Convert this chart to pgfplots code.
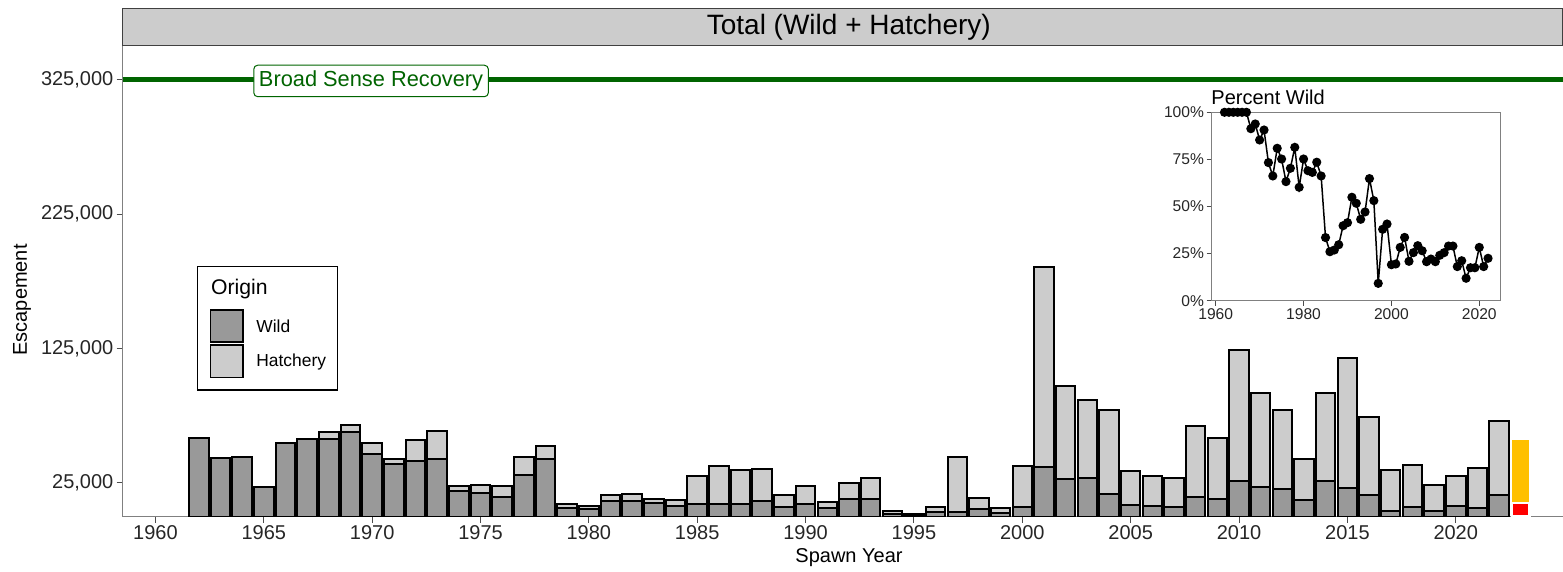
\documentclass[border=0pt]{standalone}
\usepackage{fontspec}
\setmainfont{Liberation Sans}
\usepackage{pgfplots}
\pgfplotsset{compat=1.18}
\usepackage{pgfplotstable}

\definecolor{wildgray}{HTML}{999999}
\definecolor{hatchgray}{HTML}{CCCCCC}
\definecolor{recgreen}{HTML}{006400}
\definecolor{fcorange}{HTML}{FFC000}
\definecolor{fcred}{HTML}{FF0000}
\definecolor{axgray}{HTML}{808080}

% escapement by spawn year
\pgfplotstableread{
year wild hatchery
1962 58660 0
1963 43330 0
1964 44540 0
1965 21780 0
1966 54500 0
1967 57470 0
1968 57470 5430
1969 63130 5200
1970 46540 7960
1971 39110 3940
1972 41560 15390
1973 42600 21040
1974 19030 3940
1975 17550 5940
1976 14570 7960
1977 30710 13380
1978 42830 9440
1979 6170 3420
1980 5650 2230
1981 11820 4460
1982 11820 4760
1983 9890 3420
1984 7880 4240
1985 9590 20600
1986 9590 28260
1987 9590 24830
1988 11370 24240
1989 6910 9150
1990 9150 13380
1991 6170 4460
1992 12860 11900
1993 12860 16060
1994 2000 2160
1995 1100 610
1996 3600 3310
1997 3640 40900
1998 5650 8400
1999 2650 3740
2000 7140 30480
2001 36650 149150
2002 27730 69370
2003 28920 58000
2004 16580 62680
2005 8400 25500
2006 8100 21860
2007 7360 21110
2008 14350 52790
2009 13090 45130
2010 26470 97170
2011 22230 69890
2012 20520 58740
2013 12340 30490
2014 26470 65200
2015 21260 96430
2016 15840 58440
2017 3940 30480
2018 6910 31680
2019 4200 19520
2020 8100 22090
2021 6620 29290
2022 15840 55020
}\escapement

% percent wild (inset)
\pgfplotstableread{
year pct
1962 1.0
1963 1.0
1964 1.0
1965 1.0
1966 1.0
1967 1.0
1968 0.913
1969 0.938
1970 0.853
1971 0.906
1972 0.733
1973 0.662
1974 0.809
1975 0.752
1976 0.632
1977 0.703
1978 0.814
1979 0.602
1980 0.752
1981 0.690
1982 0.681
1983 0.735
1984 0.662
1985 0.335
1986 0.260
1987 0.269
1988 0.297
1989 0.398
1990 0.414
1991 0.549
1992 0.517
1993 0.432
1994 0.471
1995 0.648
1996 0.531
1997 0.092
1998 0.379
1999 0.407
2000 0.191
2001 0.195
2002 0.283
2003 0.336
2004 0.209
2005 0.255
2006 0.292
2007 0.265
2008 0.207
2009 0.221
2010 0.207
2011 0.241
2012 0.255
2013 0.290
2014 0.290
2015 0.181
2016 0.212
2017 0.119
2018 0.175
2019 0.175
2020 0.283
2021 0.181
2022 0.225
}\pctwild

\begin{document}
\begin{tikzpicture}
\useasboundingbox (0,0) rectangle (781.5pt,286pt);

% facet strip
\draw[fill=hatchgray, draw=black!75, line width=0.6pt] (61.35pt,263.15pt) rectangle (781.2pt,281.85pt);
\node[font=\fontsize{14}{16}\selectfont] at (424.4pt,272.3pt) {Total (Wild + Hatchery)};

\begin{axis}[
    at={(61.35pt,27.7pt)}, anchor=south west,
    scale only axis, width=720.15pt, height=235.3pt,
    xmin=1958.49, xmax=2024.95, ymin=0, ymax=350000,
    enlarge x limits=false, enlarge y limits=false,
    ybar stacked, bar width=0.9,
    axis lines*=left,
    axis line style={axgray, line width=0.6pt},
    tick align=outside, major tick length=3pt,
    tick style={black!70, line width=0.5pt},
    xtick={1960,1965,...,2020},
    ytick={25000,125000,225000,325000},
    scaled y ticks=false,
    yticklabels={{25,000},{125,000},{225,000},{325,000}},
    every tick label/.append style={inner sep=1.5pt, font=\fontsize{10}{12}\selectfont, text=black!85},
    x tick label style={/pgf/number format/1000 sep={}, /pgf/number format/assume math mode=true},
]
\addplot[fill=wildgray, draw=black, line width=1pt] table[x=year, y=wild]{\escapement};
\addplot[fill=hatchgray, draw=black, line width=1pt] table[x=year, y=hatchery]{\escapement};
\end{axis}

% overlay: recovery goal and current-year bars
\begin{axis}[
    at={(61.35pt,27.7pt)}, anchor=south west,
    scale only axis, width=720.15pt, height=235.3pt,
    xmin=1958.49, xmax=2024.95, ymin=0, ymax=350000,
    enlarge x limits=false, enlarge y limits=false,
    hide axis, clip=false,
]
\addplot[ybar, bar width=0.82, bar shift=0pt, fill=fcorange, draw=white, line width=0.6pt] coordinates {(2023,57700)};
\addplot[ybar, bar width=0.82, bar shift=0pt, fill=fcred, draw=white, line width=1.2pt] coordinates {(2023,10000)};
\addplot[recgreen, line width=2.3pt] coordinates {(1958.49,325000) (2024.95,325000)};
\node[draw=recgreen, fill=white, rounded corners=2pt, line width=0.5pt, text=recgreen,
      font=\fontsize{10.9}{12}\selectfont, inner xsep=2.6pt, inner ysep=2.8pt]
      at (axis cs:1969.95,324000) {Broad Sense Recovery};
\end{axis}

% axis titles
\node[rotate=90, font=\fontsize{10}{12}\selectfont] at (11pt,136pt) {Escapement};
\node[font=\fontsize{10}{12}\selectfont] at (424.5pt,7pt) {Spawn Year};

% legend
\draw[black, line width=0.6pt] (98.65pt,91pt) rectangle (168.85pt,152.65pt);
\node[anchor=base west, font=\fontsize{10.6}{12}\selectfont, inner sep=0pt] at (105.35pt,138.5pt) {Origin};
\draw[fill=wildgray, draw=black, line width=0.8pt] (105.2pt,114.85pt) rectangle (121.35pt,131pt);
\draw[fill=hatchgray, draw=black, line width=0.8pt] (105.2pt,97.15pt) rectangle (121.35pt,113.5pt);
\node[anchor=west, font=\fontsize{8.7}{10}\selectfont, inner sep=0pt] at (128pt,122.65pt) {Wild};
\node[anchor=west, font=\fontsize{8.7}{10}\selectfont, inner sep=0pt] at (128pt,105.15pt) {Hatchery};

% inset: percent wild
\node[anchor=west, font=\fontsize{10}{12}\selectfont, inner sep=0pt] at (605.5pt,237.5pt) {Percent Wild};
\begin{axis}[
    at={(605.85pt,135.65pt)}, anchor=south west,
    scale only axis, width=144.5pt, height=94.2pt,
    xmin=1959.09, xmax=2024.88, ymin=0, ymax=1,
    axis line style={axgray, line width=0.5pt},
    tick pos=left, tick align=outside, major tick length=2.5pt,
    tick style={black!70, line width=0.5pt},
    xtick={1960,1980,2000,2020},
    ytick={0,0.25,0.5,0.75,1},
    yticklabels={0\%,25\%,50\%,75\%,100\%},
    every tick label/.append style={inner sep=1.2pt, font=\fontsize{7.8}{9}\selectfont, text=black!85},
    x tick label style={/pgf/number format/1000 sep={}, /pgf/number format/assume math mode=true},
]
\addplot[black, line width=0.75pt, mark=*, mark size=1.9pt] table[x=year, y=pct]{\pctwild};
\end{axis}
\end{tikzpicture}
\end{document}
